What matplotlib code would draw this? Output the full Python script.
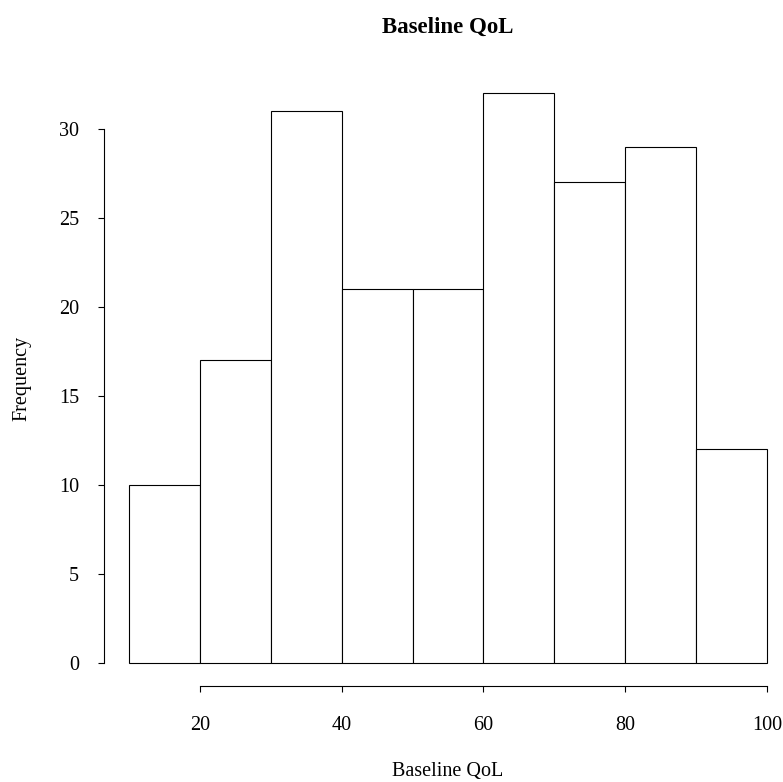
import matplotlib
matplotlib.use("Agg")
import matplotlib.pyplot as plt
import numpy as np

bin_edges = [10, 20, 30, 40, 50, 60, 70, 80, 90, 100]
counts = [10, 17, 31, 21, 21, 32, 27, 29, 12]
x_ticks = [20, 40, 60, 80, 100]
y_ticks = [0, 5, 10, 15, 20, 25, 30]

plt.rcParams['font.family'] = ['Liberation Serif', 'DejaVu Serif']

W, H = 783, 782
fig = plt.figure(figsize=(W / 100, H / 100), dpi=100)
ax_left, ax_right = 103.5, 792.5
ax_top, ax_bottom = 70.6, 685.8
ax = fig.add_axes([ax_left / W, (H - ax_bottom) / H,
                   (ax_right - ax_left) / W, (ax_bottom - ax_top) / H])

lefts = np.array(bin_edges[:-1])
widths = np.diff(bin_edges)
ax.bar(lefts, counts, width=widths, align='edge', facecolor='white',
       edgecolor='black', linewidth=0.8)

ax.set_xlim(6.4, 103.6)
ax.set_ylim(-1.28, 33.28)

for s in ['top', 'right']:
    ax.spines[s].set_visible(False)
ax.spines['left'].set_bounds(0, 30)
ax.spines['bottom'].set_bounds(20, 100)
for s in ['left', 'bottom']:
    ax.spines[s].set_linewidth(0.8)

ax.set_xticks(x_ticks)
ax.set_yticks(y_ticks)
ax.set_xticklabels([str(v) for v in x_ticks])
ax.set_yticklabels([str(v) for v in y_ticks])
ax.tick_params(axis='both', length=4, width=0.8, labelsize=14.5, direction='out')
ax.tick_params(axis='x', pad=18)
ax.tick_params(axis='y', pad=13.5)

ax.set_xlabel('Baseline QoL', fontsize=14.5, va='center')
ax.xaxis.set_label_coords(0.5, -0.140)
ax.set_ylabel('Frequency', fontsize=14.5, va='center')
ax.yaxis.set_label_coords(-0.118, 0.5)
ax.set_title('Baseline QoL', fontsize=16.5, fontweight='bold', y=1.071, va='center', pad=0)

fig.savefig('out.png', dpi=100)
